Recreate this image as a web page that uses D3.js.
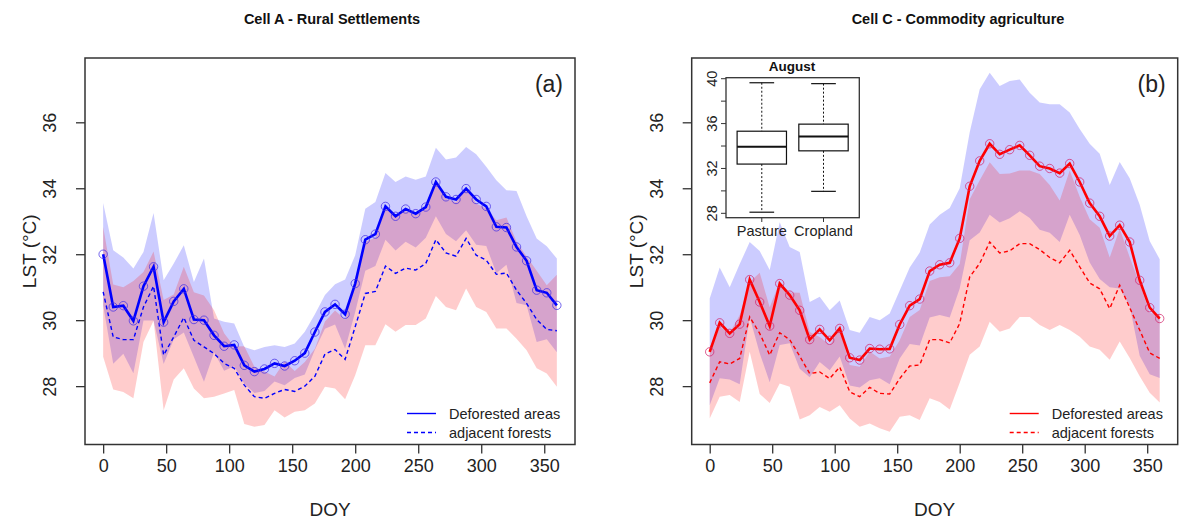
<!DOCTYPE html>
<html>
<head>
<meta charset="utf-8">
<script src="https://cdn.jsdelivr.net/npm/d3@7"></script>
<style>
body { margin: 0; background: #fff; }
svg { display: block; font-family: "Liberation Sans", Arial, sans-serif; }
</style>
</head>
<body>
<script>
// day of year, 8-day composites
const doy = [0,8,16,24,32,40,48,56,64,72,80,88,96,104,112,120,128,136,144,152,160,168,176,184,192,200,208,216,224,232,240,248,256,264,272,280,288,296,304,312,320,328,336,344,352,360];

// Cell A - rural settlements
const defA = [32.0,30.4,30.44,29.98,31.03,31.62,29.94,30.57,30.95,30.02,30.0,29.54,29.21,29.25,28.63,28.44,28.52,28.69,28.61,28.77,29.0,29.64,30.25,30.48,30.18,31.11,32.44,32.61,33.45,33.15,33.37,33.23,33.43,34.19,33.74,33.66,33.99,33.66,33.45,32.83,32.81,32.22,31.8,30.91,30.83,30.45];
const forA = [30.86,29.49,29.41,29.41,30.4,31.03,28.94,29.49,30.08,29.39,29.19,28.99,28.69,28.54,28.03,27.68,27.63,27.78,27.9,27.84,28.0,28.3,28.97,29.11,28.81,29.8,30.81,30.87,31.64,31.42,31.58,31.52,31.72,32.44,32.04,31.94,32.48,31.97,31.82,31.39,31.43,30.91,30.51,30.02,29.72,29.68];
const defHiA = [33.55,32.12,31.9,31.57,32.07,33.25,31.21,31.72,32.27,31.16,31.87,30.05,29.95,29.9,29.19,29.09,29.19,29.24,29.19,29.29,29.65,30.18,30.76,31.09,31.23,31.97,33.38,33.58,34.46,34.19,34.36,34.26,34.36,35.23,34.87,34.93,35.25,35.03,34.65,34.24,33.94,33.92,33.15,32.48,32.24,31.87];
const defLoA = [30.45,28.68,28.98,28.39,29.99,29.99,28.67,29.42,29.63,28.88,28.13,29.03,28.47,28.6,28.07,27.79,27.85,28.14,28.03,28.25,28.35,29.1,29.74,29.87,29.13,30.25,31.5,31.64,32.44,32.11,32.38,32.2,32.5,33.15,32.61,32.39,32.73,32.29,32.25,31.42,31.68,30.52,30.45,29.34,29.42,29.03];
const forHiA = [32.83,31.08,31.0,31.19,31.46,32.08,30.61,30.78,31.62,30.85,30.75,30.3,29.6,29.2,29.21,28.59,28.44,28.29,28.75,28.46,28.73,29.13,29.96,30.29,30.02,31.27,32.38,32.5,33.4,33.19,33.31,33.19,33.39,34.15,33.68,33.58,34.0,33.54,33.39,33.03,33.11,32.38,31.93,31.5,31.06,31.38];
const forLoA = [28.89,27.9,27.82,27.63,29.34,29.98,27.27,28.2,28.54,27.93,27.63,27.68,27.78,27.88,26.85,26.77,26.82,27.27,27.05,27.22,27.27,27.47,27.98,27.93,27.6,28.33,29.24,29.24,29.88,29.65,29.85,29.85,30.05,30.73,30.4,30.3,30.96,30.4,30.25,29.75,29.75,29.44,29.09,28.54,28.38,27.98];

// Cell C - commodity agriculture
const defC = [29.04,29.92,29.6,29.88,31.23,30.55,29.82,31.11,30.76,30.3,29.41,29.72,29.39,29.75,28.86,28.79,29.14,29.12,29.13,29.87,30.44,30.64,31.49,31.68,31.74,32.48,34.06,34.83,35.35,35.03,35.17,35.3,35.0,34.67,34.6,34.46,34.75,34.19,33.55,33.15,32.55,32.88,32.37,31.21,30.38,30.05];
const forC = [28.1,28.74,28.67,28.84,30.1,29.6,28.94,29.62,29.41,28.91,28.38,28.43,28.23,28.58,27.83,27.68,27.96,27.78,27.76,28.23,28.61,28.64,29.41,29.41,29.31,29.9,31.31,31.72,32.37,32.04,32.1,32.32,32.32,32.14,31.9,31.74,32.12,31.62,31.13,30.95,30.35,31.06,30.38,29.7,29.01,28.84];
const defHiC = [30.66,31.6,31.0,31.7,32.37,32.1,31.52,32.97,32.22,32.07,30.55,30.71,30.3,30.6,29.7,29.62,30.1,30.0,30.2,30.9,31.6,32.05,32.9,33.2,33.4,34.0,35.7,37.0,37.5,37.1,37.25,37.3,36.9,36.6,36.55,36.55,36.3,35.8,35.35,35.05,34.1,34.8,34.3,33.5,32.4,31.85];
const defLoC = [27.42,28.24,28.2,28.06,30.09,29.0,28.12,29.25,29.3,28.53,28.27,28.73,28.48,28.9,28.02,27.96,28.18,28.24,28.06,28.84,29.28,29.23,30.08,30.16,30.08,30.96,32.42,32.66,33.2,32.96,33.09,33.3,33.1,32.74,32.65,32.37,33.2,32.58,31.75,31.25,31.0,30.96,30.44,28.92,28.36,28.25];
const forHiC = [29.18,29.8,29.61,30.16,31.16,31.44,30.39,31.16,30.84,30.83,29.64,29.49,29.24,29.74,28.64,28.59,29.05,28.84,28.9,29.39,30.1,30.31,31.19,31.3,31.33,31.7,33.67,34.24,34.79,34.43,34.45,34.54,34.54,34.43,34.1,33.63,34.54,33.74,33.06,32.8,31.9,32.77,31.91,31.1,30.22,30.18];
const forLoC = [27.02,27.68,27.73,27.52,29.04,27.76,27.49,28.08,27.98,26.99,27.12,27.37,27.22,27.42,27.02,26.77,26.87,26.72,26.62,27.07,27.12,26.97,27.63,27.52,27.29,28.1,28.95,29.2,29.95,29.65,29.75,30.1,30.1,29.85,29.7,29.85,29.7,29.5,29.2,29.1,28.8,29.35,28.85,28.3,27.8,27.5];

// inset boxplot, August
const boxCats = ["Pasture", "Cropland"];
const boxMin = [28.1, 29.96];
const boxQ1 = [32.39, 33.57];
const boxMed = [33.93, 34.84];
const boxQ3 = [35.32, 35.95];
const boxMax = [39.64, 39.56];

const xTicks = [0,50,100,150,200,250,300,350];
const yTicks = [28,30,32,34,36];
const insetTicks = [28,30,32,34,36,38,40];
const insetLabels = [28,32,36,40];

const svg = d3.select("body").append("svg")
    .attr("width", 1179)
    .attr("height", 519);

function panel(p) {
  const g = svg.append("g").attr("transform", `translate(${p.left},${p.top})`);
  const x = d3.scaleLinear().domain([-14.4, 374.4]).range([0, p.width]);
  const y = d3.scaleLinear().domain([26.23, 37.95]).range([p.height, 0]);

  const band = (lo, hi) => d3.area()
      .x((d, i) => x(doy[i]))
      .y0((d, i) => y(lo[i]))
      .y1((d, i) => y(hi[i]));
  const line = d3.line().x((d, i) => x(doy[i])).y(d => y(d));

  g.append("path").attr("d", band(p.defLo, p.defHi)(doy)).attr("fill", "rgba(0,0,255,0.2)");
  g.append("path").attr("d", band(p.forLo, p.forHi)(doy)).attr("fill", "rgba(255,0,0,0.2)");

  g.append("path").attr("d", line(p.forest))
      .attr("fill", "none").attr("stroke", p.color)
      .attr("stroke-width", 1.4).attr("stroke-dasharray", "4,3");
  g.append("path").attr("d", line(p.defor))
      .attr("fill", "none").attr("stroke", p.color).attr("stroke-width", 2.6);
  g.selectAll("circle.pt").data(p.defor).join("circle")
      .attr("class", "pt")
      .attr("cx", (d, i) => x(doy[i])).attr("cy", d => y(d)).attr("r", 4.2)
      .attr("fill", "none").attr("stroke", p.ptColor).attr("stroke-width", 1);

  // axes
  const xa = g.append("g").attr("transform", `translate(0,${p.height})`)
      .call(d3.axisBottom(x).tickValues(xTicks).tickSize(9).tickPadding(6));
  xa.select(".domain").remove();
  xa.selectAll("line").attr("stroke", "#333").attr("stroke-width", 1.3);
  xa.selectAll("text").attr("font-size", 18).attr("fill", "#222").attr("font-family", null);

  const ya = g.append("g").call(d3.axisLeft(y).tickValues(yTicks).tickSize(9));
  ya.select(".domain").remove();
  ya.selectAll("line").attr("stroke", "#333").attr("stroke-width", 1.3);
  ya.selectAll("text")
      .attr("transform", "rotate(-90)")
      .attr("x", 0).attr("y", -29).attr("dy", 0)
      .attr("text-anchor", "middle")
      .attr("font-size", 18).attr("fill", "#222").attr("font-family", null);

  g.append("rect").attr("width", p.width).attr("height", p.height)
      .attr("fill", "none").attr("stroke", "#333").attr("stroke-width", 1.5);

  g.append("text").attr("x", p.width - 12).attr("y", 34)
      .attr("text-anchor", "end").attr("font-size", 23).attr("fill", "#222").text(p.tag);

  g.append("text")
      .attr("transform", `translate(-49,${p.height / 2}) rotate(-90)`)
      .attr("text-anchor", "middle").attr("font-size", 19).attr("fill", "#222")
      .text("LST (°C)");
  g.append("text").attr("x", p.width / 2).attr("y", 516 - p.top)
      .attr("text-anchor", "middle").attr("font-size", 19).attr("fill", "#222").text("DOY");

  svg.append("text").attr("x", p.titleX).attr("y", 24)
      .attr("text-anchor", "middle").attr("font-size", 14.5).attr("font-weight", "bold")
      .attr("fill", "#111").text(p.title);

  // legend
  const lg = g.append("g").attr("transform", `translate(${p.width - 168},${p.height - 31})`);
  lg.append("line").attr("x1", 0).attr("x2", 29).attr("y1", 0).attr("y2", 0)
      .attr("stroke", p.color).attr("stroke-width", 1.4);
  lg.append("line").attr("x1", 0).attr("x2", 29).attr("y1", 19).attr("y2", 19)
      .attr("stroke", p.color).attr("stroke-width", 1.4).attr("stroke-dasharray", "4,3");
  lg.append("text").attr("x", 42).attr("y", 0).attr("dy", "0.35em")
      .attr("font-size", 14.5).attr("fill", "#222").text("Deforested areas");
  lg.append("text").attr("x", 42).attr("y", 19).attr("dy", "0.35em")
      .attr("font-size", 14.5).attr("fill", "#222").text("adjacent forests");
}

panel({
  left: 85, top: 58, width: 490, height: 386.5,
  title: "Cell A - Rural Settlements", titleX: 332, tag: "(a)",
  color: "#0000ff", ptColor: "rgba(70,50,230,0.75)",
  defor: defA, forest: forA, defHi: defHiA, defLo: defLoA, forHi: forHiA, forLo: forLoA
});
panel({
  left: 691.7, top: 58, width: 486, height: 386.5,
  title: "Cell C - Commodity agriculture", titleX: 958, tag: "(b)",
  color: "#ff0000", ptColor: "rgba(210,40,110,0.75)",
  defor: defC, forest: forC, defHi: defHiC, defLo: defLoC, forHi: forHiC, forLo: forLoC
});

// inset boxplot
const ix = d3.scaleLinear().domain([0.42, 2.58]).range([726, 859.3]);
const iy = d3.scaleLinear().domain([27.61, 40.09]).range([217.7, 77.7]);
const ig = svg.append("g");
ig.append("rect").attr("x", 726).attr("y", 77.7).attr("width", 133.3).attr("height", 140)
    .attr("fill", "#fff");
boxCats.forEach((c, i) => {
  const cx = ix(i + 1), hw = ix(1.4) - ix(1), cw = ix(1.2) - ix(1);
  ig.append("line").attr("x1", cx).attr("x2", cx).attr("y1", iy(boxMax[i])).attr("y2", iy(boxQ3[i]))
      .attr("stroke", "#111").attr("stroke-dasharray", "2,2");
  ig.append("line").attr("x1", cx).attr("x2", cx).attr("y1", iy(boxQ1[i])).attr("y2", iy(boxMin[i]))
      .attr("stroke", "#111").attr("stroke-dasharray", "2,2");
  [boxMax[i], boxMin[i]].forEach(v => {
    ig.append("line").attr("x1", cx - cw).attr("x2", cx + cw).attr("y1", iy(v)).attr("y2", iy(v))
        .attr("stroke", "#111").attr("stroke-width", 1.2);
  });
  ig.append("rect").attr("x", cx - hw).attr("width", 2 * hw)
      .attr("y", iy(boxQ3[i])).attr("height", iy(boxQ1[i]) - iy(boxQ3[i]))
      .attr("fill", "none").attr("stroke", "#111").attr("stroke-width", 1.2);
  ig.append("line").attr("x1", cx - hw).attr("x2", cx + hw).attr("y1", iy(boxMed[i])).attr("y2", iy(boxMed[i]))
      .attr("stroke", "#111").attr("stroke-width", 2);
  ig.append("line").attr("x1", cx).attr("x2", cx).attr("y1", 217.7).attr("y2", 222)
      .attr("stroke", "#333");
  ig.append("text").attr("x", cx).attr("y", 235.5).attr("text-anchor", "middle")
      .attr("font-size", 14.5).attr("fill", "#222").text(c);
});
insetTicks.forEach(v => {
  ig.append("line").attr("x1", 721).attr("x2", 726).attr("y1", iy(v)).attr("y2", iy(v))
      .attr("stroke", "#333");
});
insetLabels.forEach(v => {
  ig.append("text").attr("transform", `translate(717,${iy(v)}) rotate(-90)`)
      .attr("text-anchor", "middle").attr("font-size", 14.5).attr("fill", "#222").text(v);
});
ig.append("rect").attr("x", 726).attr("y", 77.7).attr("width", 133.3).attr("height", 140)
    .attr("fill", "none").attr("stroke", "#333").attr("stroke-width", 1.3);
ig.append("text").attr("x", 792).attr("y", 71).attr("text-anchor", "middle")
    .attr("font-size", 13.5).attr("font-weight", "bold").attr("fill", "#111").text("August");
</script>
</body>
</html>
